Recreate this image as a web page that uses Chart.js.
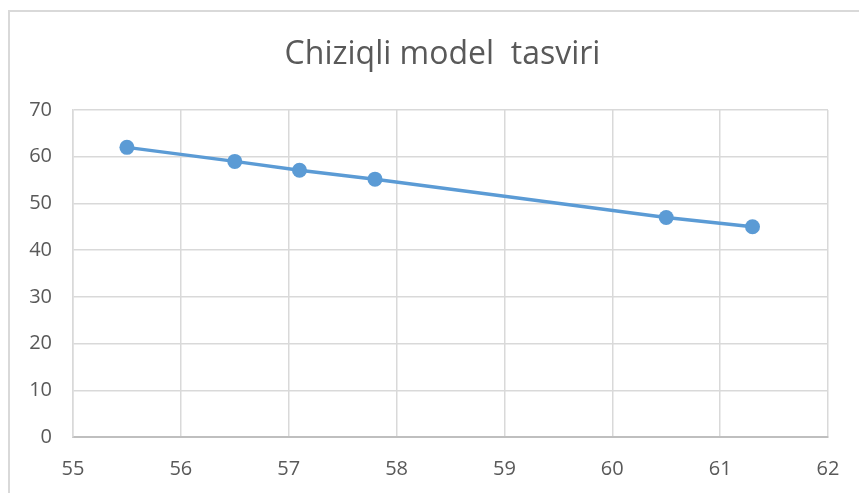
<!DOCTYPE html>
<html>
<head>
<meta charset="utf-8">
<script src="https://cdn.jsdelivr.net/npm/chart.js@4.4.0/dist/chart.umd.min.js"></script>
<style>
  html, body { margin: 0; padding: 0; background: #fff; overflow: hidden; }
  #wrap { position: relative; width: 859px; height: 493px; overflow: hidden; }
  #frame { position: absolute; left: 8px; top: 10px; width: 900px; height: 600px; border: 2px solid #d9d9d9; box-sizing: border-box; }
  #chart { position: absolute; left: 0; top: 0; }
</style>
</head>
<body>
<div id="wrap">
  <div id="frame"></div>
  <canvas id="chart" width="885" height="493"></canvas>
</div>
<script>
// Data
const chartTitle = 'Chiziqli model  tasviri';
const xValues = [55.5, 56.5, 57.1, 57.8, 60.5, 61.3];
const yValues = [62, 59, 57.1, 55.2, 47, 45];

// Axis ranges
const xMin = 55, xMax = 62, xStep = 1;
const yMin = 0, yMax = 70, yStep = 10;

const textColor = '#595959';
const lineColor = '#5b9bd5';
const fontFamily = "'Open Sans', 'Noto Sans', sans-serif";

const points = xValues.map((x, i) => ({ x, y: yValues[i] }));

new Chart(document.getElementById('chart'), {
  type: 'scatter',
  data: {
    datasets: [{
      data: points,
      showLine: true,
      borderColor: lineColor,
      backgroundColor: lineColor,
      borderWidth: 3.5,
      pointRadius: 7.5,
      pointHoverRadius: 7.5,
      pointBorderWidth: 0,
      tension: 0
    }]
  },
  options: {
    responsive: false,
    animation: false,
    layout: { padding: 0 },
    plugins: {
      legend: { display: false },
      tooltip: { enabled: false },
      title: {
        display: true,
        text: chartTitle,
        color: textColor,
        font: { family: fontFamily, size: 32, weight: 'normal' },
        padding: { top: 36, bottom: 35.6 }
      }
    },
    scales: {
      x: {
        type: 'linear',
        min: xMin, max: xMax,
        ticks: { stepSize: xStep, color: textColor, padding: 20, font: { family: fontFamily, size: 20 } },
        grid: { color: '#d9d9d9', lineWidth: 1.5, drawTicks: false },
        border: { display: true, color: '#bfbfbf', width: 2 },
        afterFit: (s) => { s.height = 56; }
      },
      y: {
        type: 'linear',
        min: yMin, max: yMax,
        ticks: { stepSize: yStep, color: textColor, padding: 21, font: { family: fontFamily, size: 20 } },
        grid: { color: '#d9d9d9', lineWidth: 1.5, drawTicks: false },
        border: { display: true, color: '#d9d9d9', width: 1.5 },
        afterFit: (s) => { s.width = 73; }
      },
      // empty right-hand spacer so the plot ends where the reference does
      spacer: {
        type: 'linear',
        position: 'right',
        min: yMin, max: yMax,
        ticks: { display: false },
        grid: { display: false, drawTicks: false },
        border: { display: false },
        afterFit: (s) => { s.width = 57; }
      }
    }
  }
});
</script>
</body>
</html>
